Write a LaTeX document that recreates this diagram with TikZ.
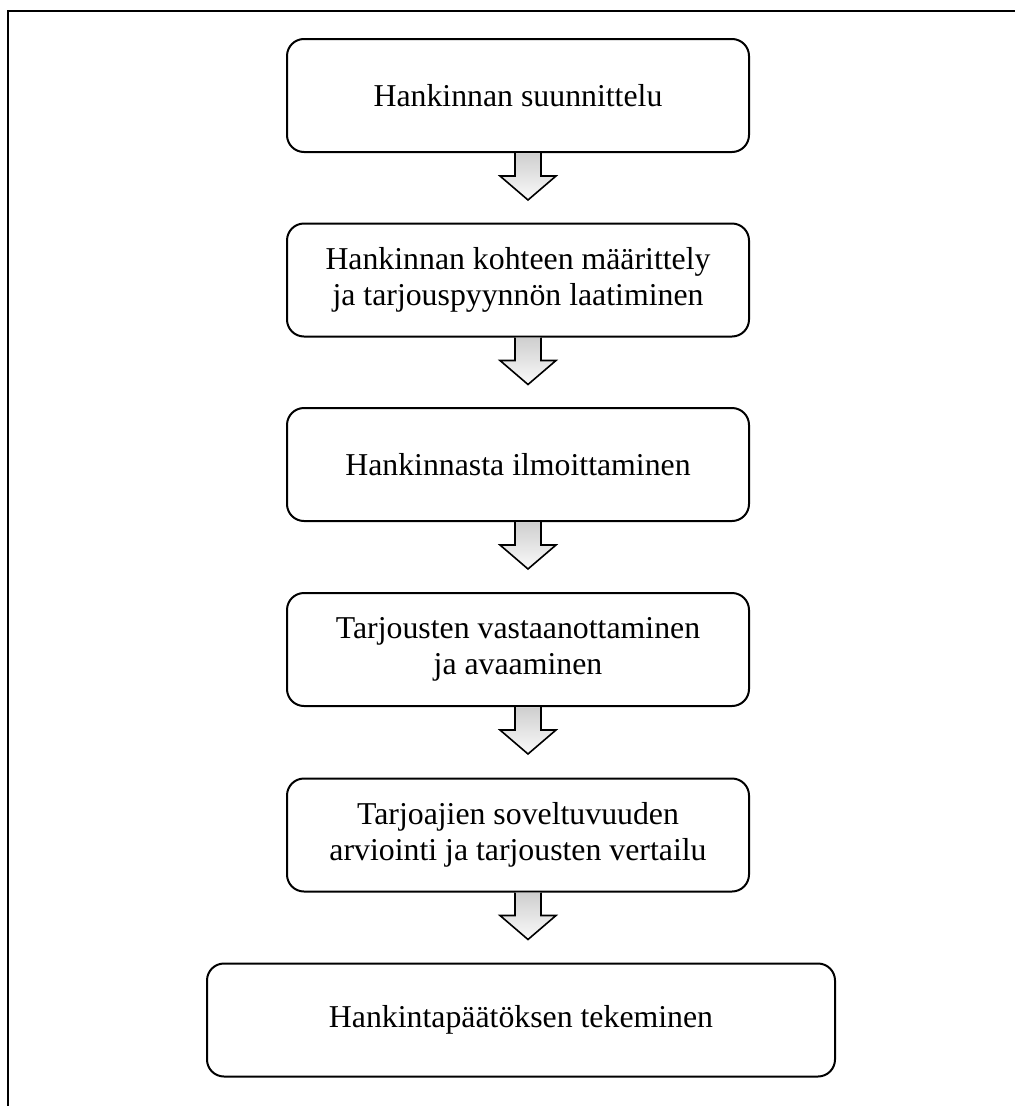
\documentclass[tikz,border=0pt]{standalone}
\usepackage{fontspec}
\setmainfont{Liberation Serif}
\usetikzlibrary{calc}
\begin{document}
\begin{tikzpicture}[x=1pt,y=-1pt,
  box/.style={draw=black, line width=2pt, rounded corners=17pt, align=center,
    font=\fontsize{31.8}{36}\selectfont, inner sep=0pt, minimum height=113pt},
  smallbox/.style={box, minimum width=462pt},
  widebox/.style={box, minimum width=628pt},
  blk/.style={draw=black, line width=1.6pt, line join=miter, top color=gray!38, bottom color=gray!4},
  frame/.style={draw=black, line width=2.2pt}]
\useasboundingbox (0,0) rectangle (1015,1106);
% outer frame (open at right and bottom, as cropped)
\draw[frame] (8,1106) -- (8,11) -- (1015,11);
% boxes
\node[smallbox] (b1) at (518,95.5) {Hankinnan suunnittelu};
\node[smallbox] (b2) at (518,280) {Hankinnan kohteen määrittely\\ja tarjouspyynnön laatiminen};
\node[smallbox] (b3) at (518,464.5) {Hankinnasta ilmoittaminen};
\node[smallbox] (b4) at (518,649.5) {Tarjousten vastaanottaminen\\ja avaaminen};
\node[smallbox] (b5) at (518,835) {Tarjoajien soveltuvuuden\\arviointi ja tarjousten vertailu};
\node[widebox] (b6) at (521,1020) {Hankintapäätöksen tekeminen};
% block arrows
\foreach \s in {b1,b2,b3,b4,b5}{
  \coordinate (a-\s) at ($(\s.south)+(10,0)$);
  \draw[blk] (a-\s) ++(-13,0) -- ++(0,23) -- ++(-15,0) -- ++(28,24) -- ++(28,-24) -- ++(-15,0) -- ++(0,-23);
}
\end{tikzpicture}
\end{document}
